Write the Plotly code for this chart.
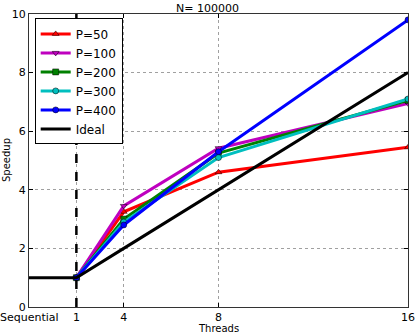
import plotly.graph_objects as go

# x positions on a linear axis; "Sequential" sits at 0, one thread at 2
x_pos = [0, 2, 4, 8, 16]
x_labels = ["Sequential", "1", "4", "8", "16"]
thread_x = [2, 4, 8, 16]

p50 = [1.0, 3.25, 4.6, 5.45]
p100 = [1.0, 3.45, 5.42, 6.95]
p200 = [1.0, 3.0, 5.25, 7.05]
p300 = [1.0, 2.9, 5.1, 7.1]
p400 = [1.0, 2.8, 5.3, 9.8]
ideal = [1.0, 1.0, 2.0, 4.0, 8.0]
split_x = 2

series = [
    ("P=50", p50, "#ff0000", "triangle-up"),
    ("P=100", p100, "#bf00bf", "triangle-down"),
    ("P=200", p200, "#008000", "square"),
    ("P=300", p300, "#00bfbf", "circle"),
    ("P=400", p400, "#0000ff", "circle"),
]

fig = go.Figure()

for name, vals, color, sym in series:
    fig.add_trace(go.Scatter(
        x=thread_x, y=vals, name=name, mode="lines+markers",
        line=dict(color=color, width=3),
        marker=dict(symbol=sym, size=6, color=color,
                    line=dict(color="black", width=0.5)),
    ))

fig.add_trace(go.Scatter(
    x=x_pos, y=ideal, name="Ideal", mode="lines",
    line=dict(color="black", width=3),
))

fig.add_vline(x=split_x, line=dict(color="black", width=2.5, dash="dash"))

axis_common = dict(
    showline=True, linecolor="#333333", linewidth=1, mirror="allticks",
    ticks="inside", ticklen=4, tickcolor="black",
    showgrid=True, gridcolor="#a0a0a0", griddash="dot", gridwidth=1,
    zeroline=False, tickfont=dict(size=11, color="black"), automargin=False,
)

fig.update_layout(
    width=415, height=333,
    margin=dict(l=29, r=7, t=14, b=26),
    paper_bgcolor="white", plot_bgcolor="white",
    font=dict(family="DejaVu Sans", size=11, color="black"),
    title=dict(text="N= 100000", x=0.5, xanchor="center",
               yref="paper", y=1, yanchor="bottom", pad=dict(b=2),
               font=dict(size=11)),
    # "Sequential" runs past the left edge, plotly would hide it as a tick label
    xaxis=dict(range=[0, 16], tickvals=x_pos[1:], ticktext=x_labels[1:], **axis_common),
    yaxis=dict(range=[0, 10], dtick=2, **axis_common),
    legend=dict(x=0.015, y=0.985, xanchor="left", yanchor="top",
                bgcolor="white", bordercolor="black", borderwidth=1,
                font=dict(size=12), tracegroupgap=0, itemwidth=30),
    showlegend=True,
    annotations=[
        dict(text=x_labels[0], x=x_pos[0], xref="x", y=0, yref="paper",
             xanchor="center", yanchor="top", yshift=-2, showarrow=False,
             font=dict(size=11)),
        dict(text="Threads", x=0.5, xref="paper", y=0, yref="paper",
             xanchor="center", yanchor="top", yshift=-14, showarrow=False,
             font=dict(size=10)),
        dict(text="Speedup", x=0, xref="paper", y=0.5, yref="paper",
             xanchor="right", yanchor="middle", xshift=-15, showarrow=False,
             textangle=-90, font=dict(size=10)),
    ],
)

fig.write_html("out.html", config={"displayModeBar": False},
               post_script="document.body.style.margin='0';")
